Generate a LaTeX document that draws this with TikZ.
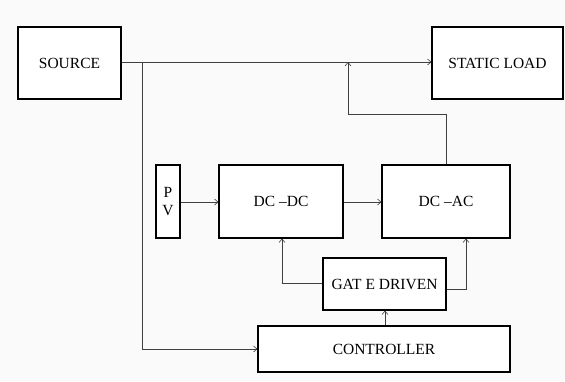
\documentclass[tikz,border=0pt]{standalone}
\usepackage{fontspec}
\setmainfont{Liberation Serif}
\usetikzlibrary{arrows.meta}
\definecolor{bg}{HTML}{FAFAFA}
\definecolor{wire}{HTML}{404040}
\begin{document}
\begin{tikzpicture}[x=1pt,y=-1pt,
  blk/.style={draw=black,line width=1.1pt,fill=white,inner sep=0pt,font=\fontsize{15.5}{17}\selectfont,align=center},
  wireln/.style={draw=wire,line width=0.7pt},
  arr/.style={wireln,-{Straight Barb[length=3.5pt,width=6pt,line width=0.6pt]}}]
\fill[bg] (0,0) rectangle (565,381);
\useasboundingbox (0,0) rectangle (565,381);
\node[blk,minimum width=103pt,minimum height=72pt] (src) at (69.5,63) {SOURCE};
\node[blk,minimum width=131pt,minimum height=72pt] (load) at (497.5,63) {STATIC LOAD};
\node[blk,minimum width=24pt,minimum height=73pt,font=\fontsize{15.5}{18}\selectfont] (pv) at (168,201.5) {P\\V};
\node[blk,minimum width=124pt,minimum height=73pt] (dcdc) at (281,201.5) {DC –DC};
\node[blk,minimum width=128pt,minimum height=73pt] (dcac) at (446,201.5) {DC –AC};
\node[blk,minimum width=123pt,minimum height=52pt] (gate) at (384.5,284) {GAT E DRIVEN};
\node[blk,minimum width=252pt,minimum height=46pt] (ctrl) at (384,349) {CONTROLLER};
\coordinate (br) at (142,62);
\coordinate (jn) at (348,62);
\draw[arr] (src.east |- 0,62) -- (load.west |- 0,62);
\draw[arr] (br) |- (ctrl.west |- 0,349);
\draw[arr] (dcac.north) |- (348,114) -- (jn);
\draw[arr] (pv.east |- 0,202) -- (dcdc.west |- 0,202);
\draw[arr] (dcdc.east |- 0,202) -- (dcac.west |- 0,202);
\draw[arr] (gate.west |- 0,283) -| (dcdc.south -| 282,0);
\draw[arr] (gate.east |- 0,289) -| (dcac.south -| 466,0);
\draw[arr] (ctrl.north -| 385,0) -- (gate.south -| 385,0);
\end{tikzpicture}
\end{document}
